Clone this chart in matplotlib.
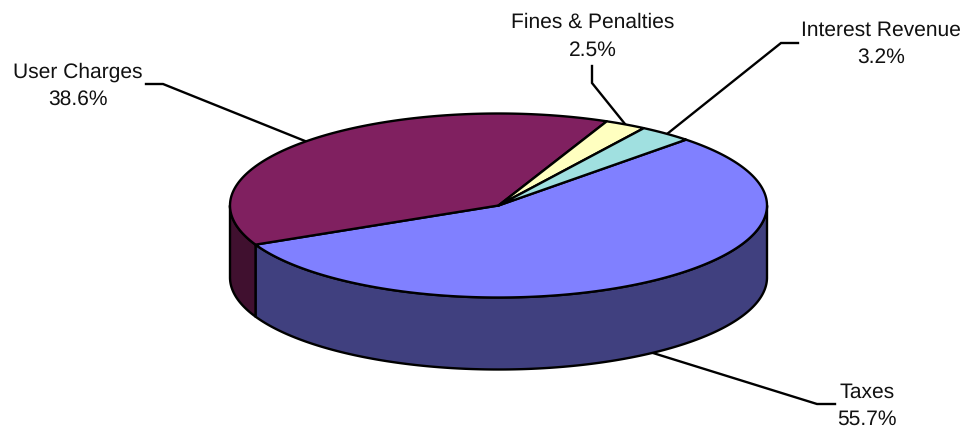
import numpy as np
import matplotlib
matplotlib.use("Agg")
import matplotlib.pyplot as plt
from matplotlib.patches import Polygon

plt.rcParams["text.hinting"] = "no_hinting"
plt.rcParams["text.hinting_factor"] = 1

categories = ["Taxes", "User Charges", "Fines & Penalties", "Interest Revenue"]
shares = [55.7, 38.6, 2.5, 3.2]
top_colors = ["#8080FF", "#802060", "#FFFFC0", "#A0E0E0"]
side_colors = ["#40407F", "#40102F", "#80805F", "#50706F"]

CX, CY, RX, RY, DEPTH = 498.5, 205.5, 268.5, 92.0, 72.0
START = 45.7
EDGE = "black"
LW = 1.7

label_pos = [(867, 406), (78, 86), (593, 36.5), (881, 44)]
leaders = [
    ([835, 817, 653], [404, 404, 353]),
    ([146, 163, 305], [84, 84, 141]),
    ([592, 592, 625], [66, 83, 124]),
    ([798, 781, 667], [43, 43, 134]),
]


def arc(a0, a1, dy=0.0):
    t = np.radians(np.linspace(a0, a1, max(int(abs(a1 - a0) * 2), 2)))
    return np.column_stack([CX + RX * np.cos(t), CY + dy - RY * np.sin(t)])


fig = plt.figure(figsize=(9.68, 4.32), dpi=100)
ax = fig.add_axes([0, 0, 1, 1])
ax.set_xlim(0, 968)
ax.set_ylim(432, 0)
ax.axis("off")

# slice angle ranges, clockwise from START
ends = START - np.cumsum(shares) / sum(shares) * 360
starts = np.r_[START, ends[:-1]]

# leader lines beneath the pie
for (xs, ys) in leaders:
    ax.plot(xs, ys, color=EDGE, lw=LW, solid_joinstyle="miter", zorder=1)

# side walls: only the front half of the rim (180..360 deg) is visible
for a0, a1, sc in zip(starts, ends, side_colors):
    hi = a0 % 360 if a0 % 360 > a1 % 360 else a0 % 360 + 360
    lo = hi - (a0 - a1)
    for shift in (0, 360, -360):
        seg_hi, seg_lo = min(hi + shift, 360), max(lo + shift, 180)
        if seg_hi > seg_lo:
            upper = arc(seg_lo, seg_hi)
            lower = arc(seg_hi, seg_lo, DEPTH)
            ax.add_patch(Polygon(np.vstack([upper, lower]), closed=True, fc=sc,
                                 ec=EDGE, lw=LW, joinstyle="round", zorder=2))

# top faces
for a0, a1, tc in zip(starts, ends, top_colors):
    pts = np.vstack([[CX, CY], arc(a0, a1)])
    ax.add_patch(Polygon(pts, closed=True, fc=tc, ec=EDGE, lw=LW,
                         joinstyle="round", zorder=3))

# labels
for name, val, (x, y) in zip(categories, shares, label_pos):
    ax.text(x, y, f"{name}\n{val}%", ha="center", va="center", ma="center",
            family="Liberation Sans", fontsize=15.3, color="#111111", linespacing=1.52,
            zorder=4)

fig.savefig("out.png", dpi=100, facecolor="white")
